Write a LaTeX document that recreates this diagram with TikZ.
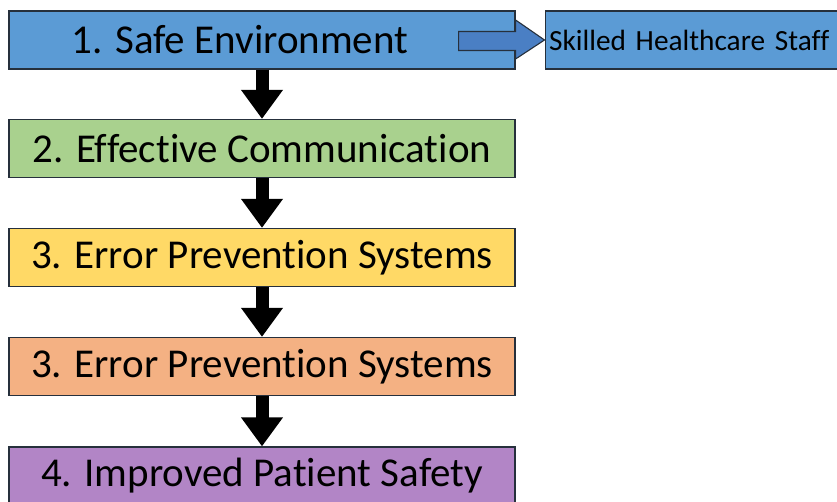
\documentclass[tikz,border=0pt]{standalone}
\usepackage{fontspec}
\setmainfont{Carlito}[Ligatures={NoCommon}]
\usetikzlibrary{arrows.meta,positioning,calc}
\definecolor{lineGray}{HTML}{26303C}
\definecolor{stepBlue}{HTML}{5B9BD5}
\definecolor{stepGreen}{HTML}{A9D18E}
\definecolor{stepYellow}{HTML}{FFD966}
\definecolor{stepOrange}{HTML}{F4B183}
\definecolor{stepPurple}{HTML}{B285C6}
\definecolor{arrowBlue}{HTML}{4A7FC4}
\tikzstyle{state}=[draw=lineGray, line width=1.2pt, minimum width=506pt, minimum height=58pt, inner sep=0pt, font=\fontsize{41}{46}\selectfont]
\tikzstyle{side}=[draw=lineGray, line width=1.2pt, minimum width=360pt, minimum height=58pt, inner sep=4pt, anchor=west, align=left, font=\fontsize{29.3}{33}\selectfont]
\tikzstyle{down}=[line width=13pt, -{Triangle[width=40pt,length=29pt]}]

\begin{document}
\begin{tikzpicture}[x=1pt,y=-1pt]
    \useasboundingbox (0,0) rectangle (837,502);
    \node [state, fill=stepBlue] (a) at (262,40) {1. Safe Environment\kern44pt};
    \node [state, fill=stepGreen] (b) [below of=a, node distance=108.5pt] {2. Effective Communication};
    \node [state, fill=stepYellow] (c) [below of=b, node distance=109pt] {3. Error Prevention Systems};
    \node [state, fill=stepOrange] (d) [below of=c, node distance=109pt] {3. Error Prevention Systems};
    \node [state, fill=stepPurple] (e) [below of=d, node distance=109.5pt] {4. Improved Patient Safety};
    \node [side, fill=stepBlue, text width=352pt] (s) at (544.5,40) {Skilled Healthcare Staff};
    % down arrows
    \draw [down] (a.south) -- (b.north);
    \draw [down] (b.south) -- (c.north);
    \draw [down] (c.south) -- (d.north);
    \draw [down] (d.south) -- (e.north);
    % side arrow
    \draw [draw=lineGray, line width=1.1pt, fill=arrowBlue, line join=miter]
        ($(a.east)+(-57,-8.5)$) -- ($(a.east)+(0,-8.5)$) -- ($(a.east)+(0,-20)$)
        -- (s.west) -- ($(a.east)+(0,19)$) -- ($(a.east)+(0,10.5)$)
        -- ($(a.east)+(-57,10.5)$) -- cycle;
\end{tikzpicture}
\end{document}
